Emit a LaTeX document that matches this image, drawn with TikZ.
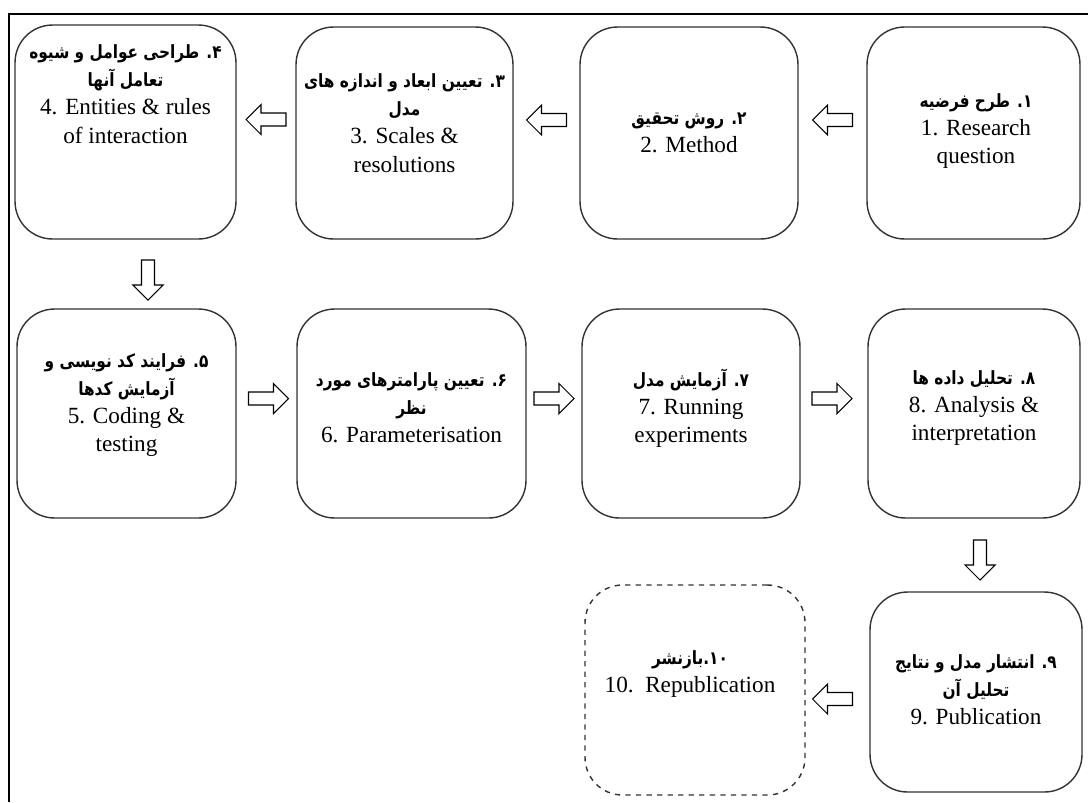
\documentclass[tikz,border=0pt]{standalone}
\usepackage{fontspec}
\setmainfont{Liberation Serif}
\newfontfamily\fafont[Script=Arabic,FakeStretch=0.84]{DejaVu Sans}
\TeXXeTstate=1
\usetikzlibrary{calc}
\newcommand{\fatext}[1]{{\fafont\bfseries\fontsize{10.4}{16}\selectfont\beginR #1\endR}}
\tikzset{
  stage/.style={draw=black!80,line width=0.8pt,rounded corners=0.75cm,inner sep=0pt},
  stagetext/.style={align=center,font=\fontsize{13.2}{16}\selectfont,inner sep=0pt},
  arrowline/.style={draw=black,line width=0.6pt,fill=white},
  hollowarrow/.pic={
    \draw[arrowline] (-20,-6.5) -- (5,-6.5) -- (5,-15) -- (20,0) -- (5,15) -- (5,6.5) -- (-20,6.5) -- cycle;
  }
}
\begin{document}
\begin{tikzpicture}[x=0.02cm,y=-0.02cm]
        \useasboundingbox (0,0) rectangle (1088,802);
        %% Frame
        \draw[line width=0.6pt] (1088,14) -- (9,14) -- (9,802);
        %% Stages, first row
        \node[stage,minimum width=4.26cm,minimum height=4.24cm] (b1) at (973.5,133) {};
        \node[stage,minimum width=4.36cm,minimum height=4.24cm] (b2) at (689,133) {};
        \node[stage,minimum width=4.34cm,minimum height=4.24cm] (b3) at (404.5,133) {};
        \node[stage,minimum width=4.42cm,minimum height=4.28cm] (b4) at (125.5,132) {};
        %% Stages, second row
        \node[stage,minimum width=4.38cm,minimum height=4.18cm] (b5) at (126.5,413.5) {};
        \node[stage,minimum width=4.58cm,minimum height=4.18cm] (b6) at (411.5,413.5) {};
        \node[stage,minimum width=4.36cm,minimum height=4.18cm] (b7) at (691,413.5) {};
        \node[stage,minimum width=4.24cm,minimum height=4.18cm] (b8) at (974,413.5) {};
        %% Stages, third row
        \node[stage,minimum width=4.24cm,minimum height=4.00cm] (b9) at (976,692) {};
        \node[stage,dashed,minimum width=4.40cm,minimum height=4.20cm] (b10) at (695,690) {};
        %% Texts
        \node[stagetext] (t1) at (976,131) {\fatext{۱\kern0pt. طرح فرضیه}\\1. Research\\question};
        \node[stagetext] (t2) at (689,132.5) {\fatext{۲\kern0pt. روش تحقیق}\\2. Method};
        \node[stagetext] (t3) at (404.5,123) {\fatext{۳\kern0pt. تعیین ابعاد و اندازه های}\\\fatext{مدل}\\3. Scales \&\\resolutions};
        \node[stagetext] (t4) at (125.5,94) {\fatext{۴\kern0pt. طراحی عوامل و شیوه}\\\fatext{تعامل آنها}\\4. Entities \& rules\\of interaction};
        \node[stagetext] (t5) at (126.5,405) {\fatext{۵\kern0pt. فرایند کد نویسی و}\\\fatext{آزمایش کدها}\\5. Coding \&\\testing};
        \node[stagetext] (t6) at (411.5,408) {\fatext{۶\kern0pt. تعیین پارامترهای مورد}\\\fatext{نظر}\\6. Parameterisation};
        \node[stagetext] (t7) at (691,408) {\fatext{۷\kern0pt. آزمایش مدل}\\7. Running\\experiments};
        \node[stagetext] (t8) at (974,408) {\fatext{۸\kern0pt. تحلیل داده ها}\\8. Analysis \&\\interpretation};
        \node[stagetext] (t9) at (976,690) {\fatext{۹\kern0pt. انتشار مدل و نتایج}\\\fatext{تحلیل آن}\\9. Publication};
        \node[stagetext] (t10) at (690,674) {\fatext{۱۰\kern0pt.\kern0pt بازنشر}\\10.\ \ Republication};
        %% Arrows
        \pic[rotate=180] at ($(b2.east)!0.5!(b1.west)+(0,-13)$) {hollowarrow};
        \pic[rotate=180] at ($(b3.east)!0.5!(b2.west)+(0,-13)$) {hollowarrow};
        \pic[rotate=180] at ($(b4.east)!0.5!(b3.west)+(0,-13)$) {hollowarrow};
        \pic[rotate=-90] at ($(b4.south)!0.5!(b5.north)+(22,6)$) {hollowarrow};
        \pic at ($(b5.east)!0.5!(b6.west)+(2,-15)$) {hollowarrow};
        \pic at ($(b6.east)!0.5!(b7.west)+(0,-15)$) {hollowarrow};
        \pic at ($(b7.east)!0.5!(b8.west)+(-2,-15)$) {hollowarrow};
        \pic[rotate=-90] at ($(b8.south)!0.5!(b9.north)+(5,5)$) {hollowarrow};
        \pic[rotate=180] at ($(b10.east)!0.5!(b9.west)+(-5,8)$) {hollowarrow};
    \end{tikzpicture}
\end{document}
